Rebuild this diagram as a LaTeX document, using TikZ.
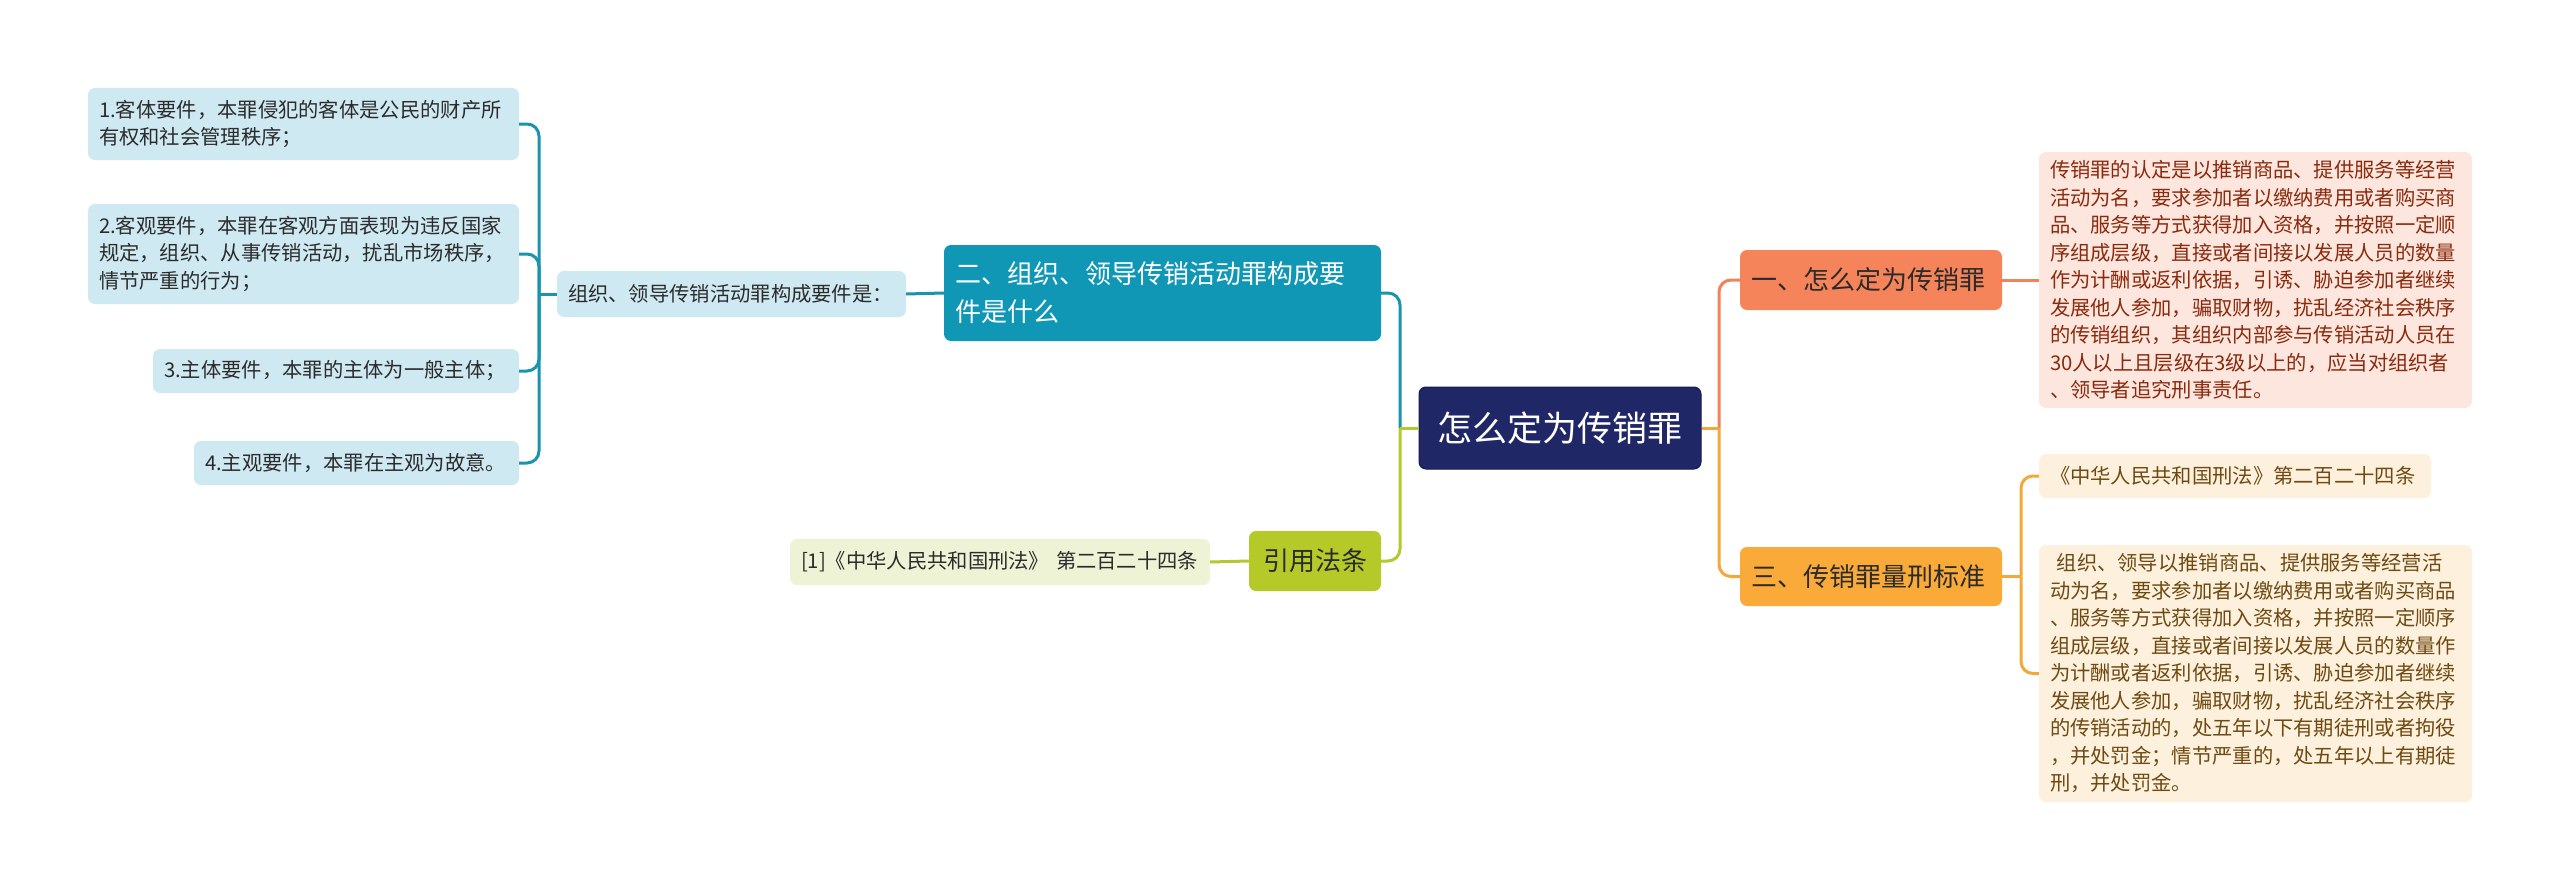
\documentclass[tikz,border=0pt]{standalone}
\usepackage{fontspec}
\setmainfont{Noto Sans CJK SC}
\definecolor{navy}{HTML}{1F2767}
\definecolor{navyedge}{HTML}{151B4F}
\definecolor{tealfill}{HTML}{0F97B5}
\definecolor{tealline}{HTML}{1A93AD}
\definecolor{leafblue}{HTML}{CFE9F2}
\definecolor{leaftext}{HTML}{2B2B2B}
\definecolor{coral}{HTML}{F6845A}
\definecolor{coralline}{HTML}{F0835A}
\definecolor{pinkbox}{HTML}{FDE6DD}
\definecolor{pinktext}{HTML}{8A2A0E}
\definecolor{amber}{HTML}{F9AA38}
\definecolor{amberline}{HTML}{F4A83A}
\definecolor{creambox}{HTML}{FDF0DC}
\definecolor{creamtext}{HTML}{6E4A12}
\definecolor{lime}{HTML}{B5C928}
\definecolor{limeline}{HTML}{B3C92F}
\definecolor{limebox}{HTML}{EEF3D6}
\begin{document}
\begin{tikzpicture}[x=1pt,y=-1pt,
  box/.style={rounded corners=7pt, inner xsep=11pt, inner ysep=0pt, align=left, anchor=center},
  small/.style={font=\fontsize{20.3}{27.5}\selectfont},
  mid/.style={font=\fontsize{26}{38}\selectfont},
  leaf/.style={box, small, fill=leafblue, text=leaftext},
  conn/.style={line width=3pt},
  elbow/.style={conn, rounded corners=12pt}
]
\useasboundingbox (0,0) rectangle (2560,891);
\fill[white] (0,0) rectangle (2560,891);

% central
\node[box, fill=navy, draw=navyedge, line width=1pt, text=white, minimum width=282pt, minimum height=82pt,
  font=\fontsize{35}{40}\selectfont, align=center] (C) at (1560,428) {怎么定为传销罪};

% level 1 nodes
\node[box, mid, fill=tealfill, text=white, minimum width=437pt, minimum height=96pt, text width=415pt] (T2) at (1162.5,293)
  {二、组织、领导传销活动罪构成要\\件是什么};
\node[box, mid, fill=lime, text=leaftext, minimum width=132pt, minimum height=60pt, align=center] (Y) at (1315,561) {引用法条};
\node[box, mid, fill=coral, text=leaftext, minimum width=262pt, minimum height=60pt, text width=240pt] (T1) at (1871,280) {一、怎么定为传销罪};
\node[box, mid, fill=amber, text=leaftext, minimum width=262pt, minimum height=59pt, text width=240pt] (T3) at (1871,576.5) {三、传销罪量刑标准};

% left subtree
\node[leaf, minimum width=349pt, minimum height=46pt, text width=327pt] (Z) at (731.5,294) {组织、领导传销活动罪构成要件是：};
\node[leaf, minimum width=431pt, minimum height=72pt, text width=409pt] (L1) at (303.5,124)
  {1.客体要件，本罪侵犯的客体是公民的财产所\\有权和社会管理秩序；};
\node[leaf, minimum width=431pt, minimum height=100pt, text width=409pt] (L2) at (303.5,254)
  {2.客观要件，本罪在客观方面表现为违反国家\\规定，组织、从事传销活动，扰乱市场秩序，\\情节严重的行为；};
\node[leaf, minimum width=366pt, minimum height=44pt, text width=344pt] (L3) at (336,371) {3.主体要件，本罪的主体为一般主体；};
\node[leaf, minimum width=325pt, minimum height=44pt, text width=303pt] (L4) at (356.5,463) {4.主观要件，本罪在主观为故意。};

% law reference
\node[box, small, fill=limebox, text=leaftext, minimum width=420pt, minimum height=46pt, text width=398pt] (R1) at (1000,562)
  {[1]《中华人民共和国刑法》 第二百二十四条};

% right subtree
\node[box, small, fill=pinkbox, text=pinktext, minimum width=433pt, minimum height=256pt, text width=411pt] (P) at (2255.5,280)
  {传销罪的认定是以推销商品、提供服务等经营\\活动为名，要求参加者以缴纳费用或者购买商\\品、服务等方式获得加入资格，并按照一定顺\\序组成层级，直接或者间接以发展人员的数量\\作为计酬或返利依据，引诱、胁迫参加者继续\\发展他人参加，骗取财物，扰乱经济社会秩序\\的传销组织，其组织内部参与传销活动人员在\\30人以上且层级在3级以上的，应当对组织者\\、领导者追究刑事责任。};
\node[box, small, fill=creambox, text=creamtext, minimum width=392pt, minimum height=44pt, text width=370pt] (Q1) at (2235,476)
  {《中华人民共和国刑法》第二百二十四条};
\node[box, small, fill=creambox, text=creamtext, minimum width=433pt, minimum height=257pt, text width=411pt] (Q2) at (2255.5,673.5)
  {\ 组织、领导以推销商品、提供服务等经营活\\动为名，要求参加者以缴纳费用或者购买商品\\、服务等方式获得加入资格，并按照一定顺序\\组成层级，直接或者间接以发展人员的数量作\\为计酬或者返利依据，引诱、胁迫参加者继续\\发展他人参加，骗取财物，扰乱经济社会秩序\\的传销活动的，处五年以下有期徒刑或者拘役\\，并处罚金；情节严重的，处五年以上有期徒\\刑，并处罚金。};

% junctions
\coordinate (jL) at (1400,428);
\coordinate (jR) at (1719,428);
\coordinate (jZ) at (539,294);
\coordinate (jQ) at (2021,576.5);

% central connectors
\draw[elbow, tealline] (jL) |- (T2.east);
\draw[elbow, coralline] (jR) |- (T1.west);
\draw[elbow, limeline] (jL) |- (Y.east);
\draw[elbow, amberline] (jR) |- (T3.west);
\draw[conn, limeline] (C.west) -- (jL);
\draw[conn, amberline] (C.east) -- (jR);

% left subtree connectors
\draw[conn, tealline] (T2.west) -- (Z.east);
\draw[conn, tealline] (Z.west) -- (jZ);
\draw[elbow, tealline] (jZ) |- (L1.east);
\draw[elbow, tealline] (jZ) |- (L2.east);
\draw[elbow, tealline] (jZ) |- (L3.east);
\draw[elbow, tealline] (jZ) |- (L4.east);

% law connector
\draw[conn, limeline] (Y.west) -- (R1.east);

% right connectors
\draw[conn, coralline] (T1.east) -- (P.west);
\draw[conn, amberline] (T3.east) -- (jQ);
\draw[elbow, amberline] (jQ) |- (Q1.west);
\draw[elbow, amberline] (jQ) |- (Q2.west);
\end{tikzpicture}
\end{document}
